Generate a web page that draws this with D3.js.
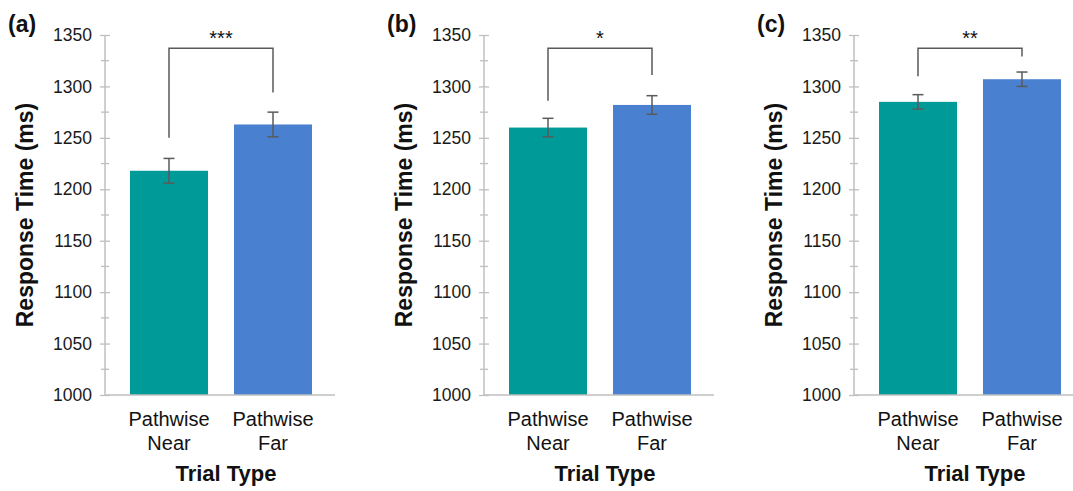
<!DOCTYPE html>
<html>
<head>
<meta charset="utf-8">
<script src="https://cdn.jsdelivr.net/npm/d3@7"></script>
<style>
  html, body { margin: 0; padding: 0; background: #fff; }
  svg { display: block; font-family: "Liberation Sans", Arial, sans-serif; }
</style>
</head>
<body>
<svg id="chart" width="1073" height="491"></svg>
<script>
// ---- data ----
const panelLabels = ["(a)", "(b)", "(c)"];
const categories = ["Pathwise Near", "Pathwise Far"];
const nearMeans = [1218, 1260, 1285];
const farMeans = [1263, 1282, 1307];
const nearErrors = [12, 9, 7];
const farErrors = [12, 9, 7];
const significance = ["***", "*", "**"];
const bracketTop = [1337, 1337, 1337];
const bracketNearEnd = [1250, 1286, 1310];
const bracketFarEnd = [1294, 1311, 1329];
const yMajorTicks = [1000, 1050, 1100, 1150, 1200, 1250, 1300, 1350];
const yMinorTicks = [1025, 1075, 1125, 1175, 1225, 1275, 1325];
const yDomain = [1000, 1350];
const yTitle = "Response Time (ms)";
const xTitle = "Trial Type";

// ---- layout ----
const colors = ["#009A98", "#4A80D0"];
const axisColor = "#BFBFBF";
const errColor = "#5A5A5A";
const axisX = [105, 484, 854];
const plotTop = 35, plotBottom = 395, axisLen = 230;

const svg = d3.select("#chart");
const y = d3.scaleLinear().domain(yDomain).range([plotBottom, plotTop]);

panelLabels.forEach((lab, i) => {
  const x0 = axisX[i];
  const g = svg.append("g");
  const x = d3.scaleBand().domain(categories)
    .range([x0 + 12, x0 + 220]).paddingInner(0.25).paddingOuter(0.125);

  // y axis
  const yAxis = d3.axisLeft(y).tickValues(yMajorTicks).tickSize(5).tickPadding(8)
    .tickFormat(d3.format("d"));
  const ya = g.append("g").attr("transform", `translate(${x0},0)`).call(yAxis);
  ya.select(".domain").remove();
  ya.selectAll(".tick line").attr("stroke", axisColor).attr("x1", -5).attr("x2", 5).attr("stroke-width", 1.3);
  ya.selectAll(".tick text").attr("fill", "#1a1a1a").style("font-size", "17.5px")
    .style("font-family", "'Liberation Sans', Arial, sans-serif");
  g.append("g").selectAll("line").data(yMinorTicks).join("line")
    .attr("x1", x0 - 4).attr("x2", x0 + 4)
    .attr("y1", d => y(d)).attr("y2", d => y(d))
    .attr("stroke", axisColor).attr("stroke-width", 1.3);
  g.append("line").attr("x1", x0).attr("x2", x0).attr("y1", y(yDomain[1])).attr("y2", y(yDomain[0]))
    .attr("stroke", axisColor).attr("stroke-width", 1.5);

  // bars
  const vals = [nearMeans[i], farMeans[i]];
  const errs = [nearErrors[i], farErrors[i]];
  g.selectAll("rect.bar").data(categories).join("rect")
    .attr("class", "bar")
    .attr("x", d => x(d)).attr("width", x.bandwidth())
    .attr("y", (d, j) => y(vals[j])).attr("height", (d, j) => y(yDomain[0]) - y(vals[j]))
    .attr("fill", (d, j) => colors[j]);

  // x axis line
  g.append("line").attr("x1", x0).attr("x2", x0 + axisLen).attr("y1", plotBottom).attr("y2", plotBottom)
    .attr("stroke", axisColor).attr("stroke-width", 1.5);

  // error bars
  categories.forEach((c, j) => {
    const cx = x(c) + x.bandwidth() / 2;
    const hi = y(vals[j] + errs[j]), lo = y(vals[j] - errs[j]);
    g.append("line").attr("x1", cx).attr("x2", cx).attr("y1", hi).attr("y2", lo)
      .attr("stroke", errColor).attr("stroke-width", 1.5);
    [hi, lo].forEach(yy => g.append("line").attr("x1", cx - 5.5).attr("x2", cx + 5.5)
      .attr("y1", yy).attr("y2", yy).attr("stroke", errColor).attr("stroke-width", 1.5));
  });

  // significance bracket
  const cN = x(categories[0]) + x.bandwidth() / 2;
  const cF = x(categories[1]) + x.bandwidth() / 2;
  g.append("path")
    .attr("d", `M${cN},${y(bracketNearEnd[i])}V${y(bracketTop[i])}H${cF}V${y(bracketFarEnd[i])}`)
    .attr("fill", "none").attr("stroke", errColor).attr("stroke-width", 1.5);
  g.append("text").attr("x", (cN + cF) / 2).attr("y", 45).attr("text-anchor", "middle")
    .style("font-size", "20px").attr("fill", "#111").text(significance[i]);

  // category labels
  categories.forEach(c => {
    const words = c.split(" ");
    const t = g.append("text").attr("x", x(c) + x.bandwidth() / 2).attr("y", 426)
      .attr("text-anchor", "middle").style("font-size", "20px").attr("fill", "#111");
    words.forEach((w, k) => t.append("tspan").attr("x", x(c) + x.bandwidth() / 2)
      .attr("dy", k === 0 ? 0 : 24).text(w));
  });

  // x title
  g.append("text").attr("x", x0 + 121).attr("y", 481).attr("text-anchor", "middle")
    .style("font-size", "22px").style("font-weight", "bold").attr("fill", "#111").text(xTitle);

  // y title
  g.append("text").attr("transform", `translate(${x0 - 72},${(plotTop + plotBottom) / 2}) rotate(-90)`)
    .attr("text-anchor", "middle").style("font-size", "23px").style("font-weight", "bold")
    .attr("fill", "#111").text(yTitle);

  // panel label
  g.append("text").attr("x", x0 - 97).attr("y", 32)
    .style("font-size", "23px").style("font-weight", "bold").attr("fill", "#111").text(lab);
});
</script>
</body>
</html>
